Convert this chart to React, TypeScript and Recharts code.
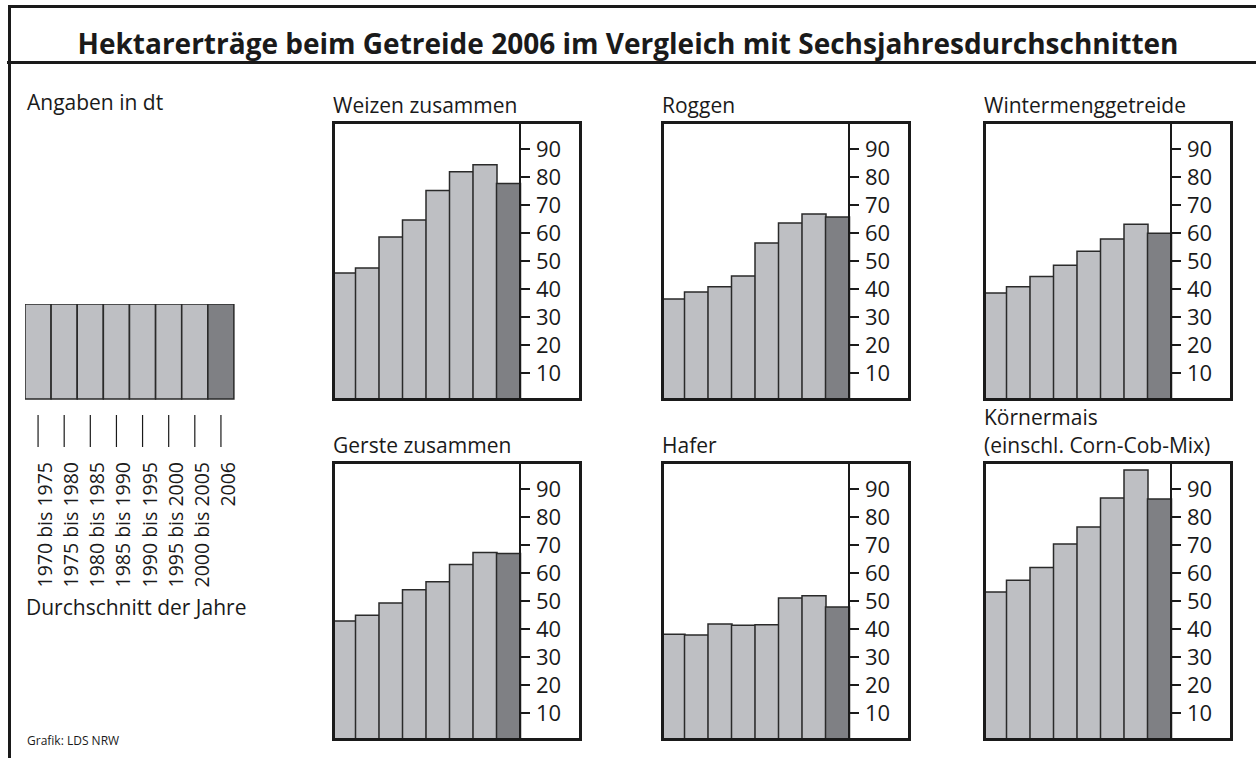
import { Bar, BarChart, Cell, XAxis, YAxis } from "recharts";

const periods = [
  "1970 bis 1975",
  "1975 bis 1980",
  "1980 bis 1985",
  "1985 bis 1990",
  "1990 bis 1995",
  "1995 bis 2000",
  "2000 bis 2005",
  "2006"
];

const weizen = [45.7, 47.5, 58.6, 64.6, 75.2, 81.9, 84.4, 77.7];
const roggen = [36.4, 38.9, 40.8, 44.6, 56.4, 63.6, 66.8, 65.7];
const wintermenggetreide = [38.6, 40.8, 44.5, 48.5, 53.5, 57.9, 63.1, 59.9];
const gerste = [42.9, 44.9, 49.3, 54.0, 56.9, 63.0, 67.3, 67.0];
const hafer = [38.1, 37.9, 41.8, 41.3, 41.5, 51.1, 51.9, 47.9];
const koernermais = [53.2, 57.4, 62.0, 70.4, 76.4, 86.8, 96.8, 86.4];

const yTicks = [10, 20, 30, 40, 50, 60, 70, 80, 90];

const FONT = "'Open Sans', sans-serif";
const INK = "#1a1a1a";
const LIGHT = "#bebfc3";
const DARK = "#7f8084";

function toRows(values: number[]) {
  return periods.map((period, i) => ({ period, value: values[i] }));
}

interface PanelProps {
  title: string[];
  values: number[];
  left: number;
  top: number;
}

function Panel({ title, values, left, top }: PanelProps) {
  const rows = toRows(values);
  const titleTop = top - 28 * title.length - 2;
  return (
    <>
      <div
        style={{
          position: "absolute",
          left: left + 1,
          top: titleTop,
          fontSize: 21,
          lineHeight: "28px",
          color: INK,
          whiteSpace: "nowrap"
        }}
      >
        {title.map((line) => (
          <div key={line}>{line}</div>
        ))}
      </div>
      <div style={{ position: "absolute", left, top }}>
        <BarChart
          width={250}
          height={280}
          data={rows}
          margin={{ top: 0, right: 0, bottom: 0, left: 0 }}
          barCategoryGap={0}
          barGap={0}
        >
          <XAxis dataKey="period" hide />
          <YAxis
            orientation="right"
            width={62}
            domain={[0, 100]}
            ticks={yTicks}
            interval={0}
            axisLine={{ stroke: INK, strokeWidth: 2 }}
            tickLine={{ stroke: INK, strokeWidth: 2 }}
            tickSize={10}
            tickMargin={6}
            tick={{ fill: INK, fontSize: 22, fontFamily: FONT }}
          />
          <Bar dataKey="value" stroke="#2a2a2a" strokeWidth={1.5} isAnimationActive={false}>
            {rows.map((row, i) => (
              <Cell key={row.period} fill={i === rows.length - 1 ? DARK : LIGHT} />
            ))}
          </Bar>
        </BarChart>
        <div
          style={{
            position: "absolute",
            left: 0,
            top: 0,
            width: 250,
            height: 280,
            boxSizing: "border-box",
            border: `3px solid ${INK}`,
            pointerEvents: "none"
          }}
        />
      </div>
    </>
  );
}

function LegendTick(props: any) {
  const { x, y, payload } = props;
  return (
    <g>
      <line x1={x} x2={x} y1={y + 16} y2={y + 48} stroke={INK} strokeWidth={1.2} />
      <text
        transform={`translate(${x + 14},${y + 63}) rotate(-90)`}
        textAnchor="end"
        fill={INK}
        fontSize={19.5}
        fontFamily={FONT}
      >
        {payload.value}
      </text>
    </g>
  );
}

function LegendStrip() {
  const rows = periods.map((period) => ({ period, value: 1 }));
  return (
    <div style={{ position: "absolute", left: 25, top: 304 }}>
      <BarChart
        width={232}
        height={285}
        data={rows}
        margin={{ top: 0, right: 23, bottom: 0, left: 0 }}
        barCategoryGap={0}
        barGap={0}
      >
        <XAxis
          dataKey="period"
          height={190}
          interval={0}
          axisLine={false}
          tickLine={false}
          tickSize={0}
          tickMargin={0}
          tick={<LegendTick />}
        />
        <YAxis hide domain={[0, 1]} />
        <Bar dataKey="value" stroke="#2a2a2a" strokeWidth={1.5} isAnimationActive={false}>
          {rows.map((row, i) => (
            <Cell key={row.period} fill={i === rows.length - 1 ? DARK : LIGHT} />
          ))}
        </Bar>
      </BarChart>
    </div>
  );
}

export default function App() {
  return (
    <div
      style={{
        position: "absolute",
        left: 0,
        top: 0,
        width: 1256,
        height: 758,
        overflow: "hidden",
        background: "#ffffff",
        fontFamily: FONT,
        color: INK
      }}
    >
      {/* frame */}
      <div style={{ position: "absolute", left: 8, top: 5, width: 1248, height: 3, background: INK }} />
      <div style={{ position: "absolute", left: 7, top: 61, width: 1249, height: 3, background: INK }} />
      <div style={{ position: "absolute", left: 8, top: 5, width: 3, height: 753, background: INK }} />

      <div
        style={{
          position: "absolute",
          left: 0,
          top: 24,
          width: 1256,
          textAlign: "center",
          fontSize: 28,
          fontWeight: 700,
          lineHeight: "38px"
        }}
      >
        Hektarerträge beim Getreide 2006 im Vergleich mit Sechsjahresdurchschnitten
      </div>

      <div style={{ position: "absolute", left: 27, top: 88, fontSize: 21, lineHeight: "28px" }}>
        Angaben in dt
      </div>

      <LegendStrip />

      <div style={{ position: "absolute", left: 26, top: 593, fontSize: 21, lineHeight: "28px" }}>
        Durchschnitt der Jahre
      </div>

      <div style={{ position: "absolute", left: 27, top: 733, fontSize: 12, lineHeight: "16px" }}>
        Grafik: LDS NRW
      </div>

      <Panel title={["Weizen zusammen"]} values={weizen} left={332} top={121} />
      <Panel title={["Roggen"]} values={roggen} left={661} top={121} />
      <Panel title={["Wintermenggetreide"]} values={wintermenggetreide} left={983} top={121} />
      <Panel title={["Gerste zusammen"]} values={gerste} left={332} top={461} />
      <Panel title={["Hafer"]} values={hafer} left={661} top={461} />
      <Panel
        title={["Körnermais", "(einschl. Corn-Cob-Mix)"]}
        values={koernermais}
        left={983}
        top={461}
      />
    </div>
  );
}
